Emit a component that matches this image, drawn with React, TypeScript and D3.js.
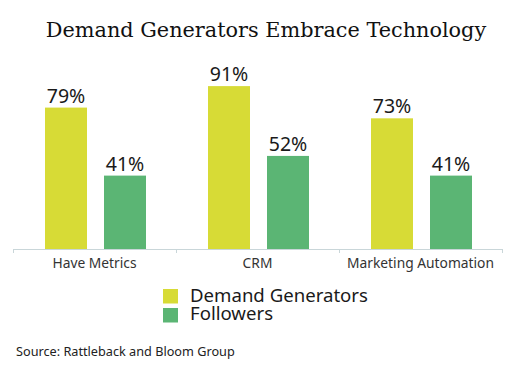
import React from "react";
import * as d3 from "d3";

const categories = ["Have Metrics", "CRM", "Marketing Automation"];
const seriesNames = ["Demand Generators", "Followers"];
const demandGenerators = [79, 91, 73];
const followers = [41, 52, 41];
const colors = ["#d7db36", "#5bb574"];

const W = 519;
const H = 378;

export default function App() {
  const x0 = d3.scaleBand<string>().domain(categories).range([13, 502]).paddingInner(0).paddingOuter(0);
  const x1 = d3.scaleBand<string>().domain(seriesNames).range([32, 133]).paddingInner(17 / 59).paddingOuter(0);
  const y = d3.scaleLinear().domain([0, 100]).range([249, 70]);
  const values = [demandGenerators, followers];
  const sans = "'Noto Sans', sans-serif";
  const ticks = [...categories.map((c) => x0(c)!), 502];
  return (
    <svg width={W} height={H} style={{ position: "absolute", left: 0, top: 0, background: "#fff" }}>
      <text x={266} y={37} textAnchor="middle" fontFamily="'DejaVu Serif', serif" fontSize={20.8} fill="#111">
        Demand Generators Embrace Technology
      </text>
      {categories.map((c, ci) =>
        seriesNames.map((s, si) => {
          const v = values[si][ci];
          const bx = x0(c)! + x1(s)!;
          return (
            <g key={c + s}>
              <rect x={bx} y={y(v)} width={x1.bandwidth()} height={y(0) - y(v)} fill={colors[si]} />
              <text x={bx + x1.bandwidth() / 2} y={y(v) - 5} textAnchor="middle" fontFamily={sans} fontSize={19.5} fill="#1a1a1a">
                {v}%
              </text>
            </g>
          );
        })
      )}
      <line x1={13} x2={502} y1={249.5} y2={249.5} stroke="#c9d6d9" strokeWidth={1} />
      {ticks.map((t, i) => (
        <line key={i} x1={t + 0.5} x2={t + 0.5} y1={249} y2={253} stroke="#c9d6d9" strokeWidth={1} />
      ))}
      {categories.map((c) => (
        <text key={c} x={x0(c)! + x0.bandwidth() / 2} y={268} textAnchor="middle" fontFamily={sans} fontSize={13.8} fill="#333">
          {c}
        </text>
      ))}
      {seriesNames.map((s, i) => (
        <g key={s}>
          <rect x={163} y={289 + i * 19} width={15} height={14.5} fill={colors[i]} />
          <text x={190} y={302 + i * 18} fontFamily={sans} fontSize={18.6} fill="#1a1a1a">
            {s}
          </text>
        </g>
      ))}
      <text x={16} y={356} fontFamily={sans} fontSize={12.7} fill="#222">
        Source: Rattleback and Bloom Group
      </text>
    </svg>
  );
}
